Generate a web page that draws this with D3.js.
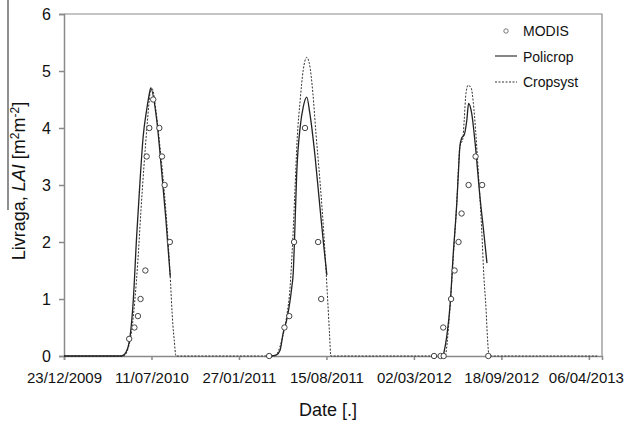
<!DOCTYPE html>
<html>
<head>
<meta charset="utf-8">
<script src="https://cdn.jsdelivr.net/npm/d3@7"></script>
<style>
body { margin: 0; background: #fff; }
svg { display: block; font-family: Arial, "Liberation Sans", sans-serif; }
</style>
</head>
<body>
<div id="chart"></div>
<script>
/*
 * Axis set up.
 */
var xTickLabels = ['23/12/2009', '11/07/2010', '27/01/2011', '15/08/2011', '02/03/2012', '18/09/2012', '06/04/2013'];
var xDomain = ['23/12/2009', '06/05/2013'];
var yTicks = [0, 1, 2, 3, 4, 5, 6];
/*
 * MODIS observations.
 */
var modisDates = [
    '21/05/2010', '02/06/2010', '10/06/2010', '16/06/2010', '27/06/2010', '30/06/2010',
    '06/07/2010', '15/07/2010', '29/07/2010', '04/08/2010', '10/08/2010', '22/08/2010',
    '06/04/2011', '11/05/2011', '22/05/2011', '02/06/2011', '27/06/2011', '27/07/2011', '03/08/2011',
    '17/04/2012', '02/05/2012', '09/05/2012', '08/05/2012', '26/05/2012', '03/06/2012',
    '12/06/2012', '19/06/2012', '05/07/2012', '21/07/2012', '05/08/2012', '19/08/2012'
];
var modisLai = [
    0.3, 0.5, 0.7, 1.0, 1.5, 3.5, 4.0, 4.5, 4.0, 3.5, 3.0, 2.0,
    0, 0.5, 0.7, 2.0, 4.0, 2.0, 1.0,
    0, 0, 0, 0.5, 1.0, 1.5, 2.0, 2.5, 3.0, 3.5, 3.0, 0
];
/*
 * Policrop simulation (null = no simulation).
 */
var policropDates = [
    '23/12/2009', '04/05/2010', '14/05/2010', '23/05/2010', '30/05/2010', '07/06/2010', '15/06/2010',
    '22/06/2010', '30/06/2010', '08/07/2010', '09/07/2010', '23/07/2010', '03/08/2010', '13/08/2010',
    '23/08/2010', '01/09/2010',
    '08/04/2011', '23/04/2011', '01/05/2011', '08/05/2011', '16/05/2011', '24/05/2011', '28/05/2011',
    '31/05/2011', '03/06/2011', '08/06/2011', '16/06/2011', '23/06/2011', '01/07/2011', '08/07/2011',
    '20/07/2011', '31/07/2011', '09/08/2011', '16/08/2011', '01/09/2011',
    '08/05/2012', '16/05/2012', '24/05/2012', '31/05/2012', '08/06/2012', '12/06/2012', '15/06/2012',
    '19/06/2012', '25/06/2012', '01/07/2012', '05/07/2012', '12/07/2012', '20/07/2012', '31/07/2012',
    '09/08/2012', '16/08/2012'
];
var policropLai = [
    0, 0, 0.07, 0.34, 0.93, 2.09, 3.09, 3.85, 4.32, 4.67, 4.70, 4.14, 3.26, 2.39, 1.39, null,
    0, 0.02, 0.1, 0.4, 0.63, 0.98, 1.22, 1.45, 2.04, 3.2, 4.02, 4.37, 4.54, 4.26, 3.5, 2.62, 1.92, 1.42, null,
    0, 0.34, 0.92, 1.8, 2.68, 3.26, 3.67, 3.82, 3.88, 4.14, 4.43, 4.26, 3.73, 2.79, 2.15, 1.63
];
/*
 * Cropsyst simulation.
 */
var cropsystDates = [
    '23/12/2009', '08/05/2010', '21/05/2010', '27/05/2010', '03/06/2010', '10/06/2010', '17/06/2010',
    '24/06/2010', '01/07/2010', '06/07/2010', '10/07/2010', '14/07/2010', '21/07/2010', '30/07/2010',
    '09/08/2010', '17/08/2010', '22/08/2010', '29/08/2010', '01/09/2010', '05/09/2010',
    '19/04/2011', '05/05/2011', '16/05/2011', '24/05/2011', '30/05/2011', '04/06/2011', '09/06/2011',
    '16/06/2011', '23/06/2011', '01/07/2011', '07/07/2011', '15/07/2011', '22/07/2011', '31/07/2011',
    '09/08/2011', '17/08/2011', '22/08/2011', '25/08/2011',
    '12/05/2012', '22/05/2012', '31/05/2012', '08/06/2012', '15/06/2012', '22/06/2012', '25/06/2012',
    '29/06/2012', '04/07/2012', '11/07/2012', '16/07/2012', '21/07/2012', '27/07/2012', '04/08/2012',
    '09/08/2012', '14/08/2012', '17/08/2012', '21/08/2012', '26/04/2013'
];
var cropsystLai = [
    0, 0, 0.2, 0.46, 0.98, 1.68, 2.56, 3.35, 4.05, 4.49, 4.71, 4.67, 4.32, 3.70, 2.91, 2.12, 1.51, 0.54, 0.28, 0,
    0, 0.28, 0.69, 1.22, 2.04, 2.91, 3.79, 4.49, 5.02, 5.24, 5.13, 4.61, 3.91, 3.09, 2.15, 1.1, 0.4, 0,
    0, 0.69, 1.74, 2.68, 3.67, 3.82, 4.14, 4.61, 4.75, 4.70, 4.43, 3.96, 3.26, 2.21, 1.39, 0.81, 0.34, 0, 0
];

var parseDate = d3.utcParse('%d/%m/%Y');


/**
 * LAI time series chart.
 * @public
 * @class
 */
function LaiChart() {
    /**
     * Outer dimensions.
     * @private
     */
    this._outerWidth = 624;
    this._outerHeight = 422;
    /**
     * Plot area margins.
     * @private
     */
    this._margin = {top: 14, right: 22, bottom: 66, left: 64};
    /**
     * Scale functions.
     * @private
     */
    this._xScale = d3.scaleUtc();
    this._yScale = d3.scaleLinear();
    /**
     * Line generator.
     * @private
     */
    this._lineGenerator = d3.line()
        .defined(d => d.lai !== null)
        .curve(d3.curveMonotoneX)
        .x(d => this._xScale(d.date))
        .y(d => this._yScale(d.lai));
}


/**
 * Zip dates and values.
 * @private
 */
LaiChart.prototype._zip = function(dates, values) {

    return dates.map((d, i) => ({date: parseDate(d), lai: values[i]}));
};


/**
 * Render chart.
 * @public
 */
LaiChart.prototype.renderTo = function(selection) {

    var m = this._margin;
    var right = this._outerWidth - m.right;
    var bottom = this._outerHeight - m.bottom;

    this._xScale.domain(xDomain.map(parseDate)).range([m.left, right]);
    this._yScale.domain([0, 6]).range([bottom, m.top]);

    var svg = d3.select(selection).append('svg')
        .attr('width', this._outerWidth)
        .attr('height', this._outerHeight);

    svg.append('rect')
        .attr('width', this._outerWidth)
        .attr('height', this._outerHeight)
        .attr('fill', '#fff');
    /*
     * Plot frame (top & right).
     */
    svg.append('path')
        .attr('d', 'M' + m.left + ',' + m.top + 'H' + right + 'V' + bottom)
        .attr('fill', 'none')
        .attr('stroke', '#8a8a8a')
        .attr('stroke-width', 1.2);
    /*
     * Axes.
     */
    var yAxis = svg.append('g')
        .attr('transform', 'translate(' + m.left + ',0)')
        .call(d3.axisLeft(this._yScale).tickValues(yTicks).tickSize(5).tickPadding(8).tickFormat(d3.format('d')));

    var xAxis = svg.append('g')
        .attr('transform', 'translate(0,' + bottom + ')')
        .call(d3.axisBottom(this._xScale)
            .tickValues(xTickLabels.map(parseDate))
            .tickSize(4)
            .tickPadding(12)
            .tickFormat(d3.utcFormat('%d/%m/%Y')));

    [xAxis, yAxis].forEach(function(axis) {
        axis.selectAll('path, line')
            .attr('stroke', '#8a8a8a')
            .attr('stroke-width', 1.5);
        axis.selectAll('text')
            .attr('fill', '#111')
            .style('font-size', '16px')
            .style('font-family', 'Arial, "Liberation Sans", sans-serif');
    });
    /*
     * Date labels slightly smaller; keep last one inside the picture.
     */
    xAxis.selectAll('text').style('font-size', '15px');
    xAxis.selectAll('.tick:last-of-type text').attr('dx', -3);
    /*
     * Axis titles.
     */
    svg.append('text')
        .attr('x', 328)
        .attr('y', 416)
        .attr('text-anchor', 'middle')
        .attr('fill', '#111')
        .style('font-size', '18px')
        .text('Date [.]');

    var yTitle = svg.append('text')
        .attr('transform', 'translate(25,181) rotate(-90)')
        .attr('text-anchor', 'middle')
        .attr('fill', '#111')
        .style('font-size', '18px');
    yTitle.append('tspan').text('Livraga, ');
    yTitle.append('tspan').style('font-style', 'italic').text('LAI');
    yTitle.append('tspan').text(' [m');
    yTitle.append('tspan').attr('dy', -6).style('font-size', '12px').text('2');
    yTitle.append('tspan').attr('dy', 6).text('m');
    yTitle.append('tspan').attr('dy', -6).style('font-size', '12px').text('-2');
    yTitle.append('tspan').attr('dy', 6).text(']');

    svg.append('line')
        .attr('x1', 8).attr('x2', 8)
        .attr('y1', 0).attr('y2', 210)
        .attr('stroke', '#444')
        .attr('stroke-width', 1.2);
    /*
     * Simulated series.
     */
    svg.append('path')
        .datum(this._zip(cropsystDates, cropsystLai))
        .attr('d', this._lineGenerator)
        .attr('fill', 'none')
        .attr('stroke', '#333')
        .attr('stroke-width', 1)
        .attr('stroke-dasharray', '2,1.5');

    svg.append('path')
        .datum(this._zip(policropDates, policropLai))
        .attr('d', this._lineGenerator)
        .attr('fill', 'none')
        .attr('stroke', '#222')
        .attr('stroke-width', 1.3);
    /*
     * Observations.
     */
    svg.append('g')
        .selectAll('circle')
        .data(this._zip(modisDates, modisLai))
        .join('circle')
        .attr('cx', d => this._xScale(d.date))
        .attr('cy', d => this._yScale(d.lai))
        .attr('r', 2.7)
        .attr('fill', '#fff')
        .attr('stroke', '#444')
        .attr('stroke-width', 1);
    /*
     * Legend.
     */
    var legend = svg.append('g').style('font-size', '14px').attr('fill', '#111');

    legend.append('circle')
        .attr('cx', 506).attr('cy', 31).attr('r', 2.2)
        .attr('fill', '#fff').attr('stroke', '#777');
    legend.append('line')
        .attr('x1', 495).attr('x2', 517).attr('y1', 56).attr('y2', 56)
        .attr('stroke', '#444').attr('stroke-width', 1.3);
    legend.append('line')
        .attr('x1', 495).attr('x2', 517).attr('y1', 82).attr('y2', 82)
        .attr('stroke', '#333').attr('stroke-width', 1).attr('stroke-dasharray', '2,1.5');

    legend.selectAll('text')
        .data(['MODIS', 'Policrop', 'Cropsyst'])
        .join('text')
        .attr('x', 523)
        .attr('y', (d, i) => 36 + i * 25.5)
        .text(d => d);

    return this;
};


new LaiChart().renderTo('#chart');
</script>
</body>
</html>
